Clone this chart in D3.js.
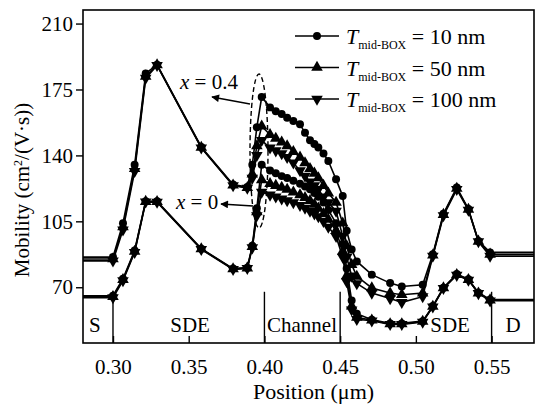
<!DOCTYPE html>
<html>
<head>
<meta charset="utf-8">
<script src="https://cdn.jsdelivr.net/npm/d3@7"></script>
</head>
<body style="margin:0; background:#fff">
<div id="chart"></div>
<script>
// Data
const positions = [0.27, 0.300, 0.3066, 0.3143, 0.3216, 0.3291, 0.3583, 0.3793, 0.3887, 0.3920,
                   0.3950, 0.3982, 0.4037, 0.4075, 0.4114, 0.4150, 0.4191, 0.4235, 0.4268, 0.4301,
                   0.4330, 0.4356, 0.4390, 0.4422, 0.4473, 0.4517, 0.4543, 0.4576, 0.4610, 0.4709,
                   0.4830, 0.4907, 0.5045, 0.5112, 0.5182, 0.5270, 0.5347, 0.5413, 0.5490, 0.59];

// x = 0.4 group
const upper10  = [86, 86, 104, 135, 183.5, 188.2, 144.5, 124.5, 123.2, 135,
                  155, 171, 165.5, 163.5, 162, 160, 158.3, 156.5, 152, 148,
                  146, 144.2, 141, 137, 127.3, 118.4, 100, 90, 83.7, 76.7,
                  72.2, 70.4, 71.3, 87.5, 109, 123, 111.5, 94.6, 88.5, 88.5];
const upper50  = [85, 85, 102, 133, 182, 188, 144.2, 124.2, 122.9, 130,
                  145, 155.5, 151, 149, 147, 145, 142, 139, 136, 133,
                  130.5, 128, 124, 120, 115, 104, 92, 82, 75.8, 69.6,
                  66.9, 66, 66.9, 87, 108.6, 122.5, 111.3, 94.4, 87.5, 87.5];
const upper100 = [84, 84, 100.5, 131.5, 181, 187.8, 144, 124, 122.6, 128,
                  140, 148, 144, 142.5, 141, 139, 136, 132, 129, 126,
                  124, 122, 118, 115, 110.4, 97, 86, 76, 72, 66.9,
                  64, 62, 65, 86.5, 108, 122, 111, 94.2, 86.5, 86.5];

// x = 0 group
const lower10  = [65.5, 65.5, 74.5, 89.5, 115.7, 115.6, 90.5, 79.9, 80.4, 92,
                  112, 135, 132, 130.5, 129, 128, 126.5, 125, 123.5, 122,
                  120, 118, 115, 111, 104, 93, 80, 63, 56, 52.8,
                  50.8, 50.8, 52, 60, 69.8, 77, 74.2, 67.1, 63.5, 63.5];
const lower50  = [65, 65, 74, 89, 115.5, 115.4, 90.3, 79.7, 80.2, 91.5,
                  110, 127, 125, 124, 123, 122, 120.5, 119, 117.5, 116,
                  114, 112, 109, 106, 100, 89, 76, 60, 54, 52.5,
                  50.5, 50.5, 51.8, 59.8, 69.6, 76.7, 74, 66.9, 63.2, 63.2];
const lower100 = [64.5, 64.5, 73.5, 88.5, 115.3, 115.2, 90.1, 79.5, 80, 91,
                  108, 120.5, 119, 118, 117, 116, 115, 113.5, 112, 110.5,
                  109, 107.5, 105, 102, 97, 86, 73, 58, 53, 52.2,
                  50.3, 50.3, 51.5, 59.6, 69.4, 76.4, 73.8, 66.7, 62.8, 62.8];

const legendLabels = ['= 10 nm', '= 50 nm', '= 100 nm'];
const yTicks = [70, 105, 140, 175, 210];
const xTicks = [0.30, 0.35, 0.40, 0.45, 0.50, 0.55];
const dividers = [0.30, 0.40, 0.45, 0.55];
const regions = [
  { name: 'S', x: 0.2881 },
  { name: 'SDE', x: 0.3509 },
  { name: 'Channel', x: 0.4248 },
  { name: 'SDE', x: 0.5226 },
  { name: 'D', x: 0.5642 }
];

const FONT = '"Liberation Serif"';

// Step 1: chart area
const svgWidth = 536;
const svgHeight = 407;
const margin = { top: 10, bottom: 64, right: 2, left: 83 };
const chartWidth = svgWidth - margin.left - margin.right;
const chartHeight = svgHeight - margin.top - margin.bottom;

const svg = d3.select('#chart')
  .append('svg')
  .attr('width', svgWidth)
  .attr('height', svgHeight);

const chartGroup = svg.append('g')
  .attr('transform', `translate(${margin.left}, ${margin.top})`);

// Step 2: scales
const xScale = d3.scaleLinear().domain([0.2802, 0.578]).range([0, chartWidth]);
const yScale = d3.scaleLinear().domain([40.4, 217.2]).range([chartHeight, 0]);

// Step 3: axes
const leftAxis = d3.axisLeft(yScale).tickValues(yTicks).tickSize(7).tickPadding(3).tickFormat(d3.format('d'));
const bottomAxis = d3.axisBottom(xScale).tickValues(xTicks).tickSize(-7).tickPadding(16).tickFormat(d3.format('.2f'));

const yAxisG = chartGroup.append('g').call(leftAxis);
const xAxisG = chartGroup.append('g').attr('transform', `translate(0, ${chartHeight})`).call(bottomAxis);

[yAxisG, xAxisG].forEach(g => {
  g.attr('font-family', null).attr('font-size', null);
  g.select('.domain').remove();
  g.selectAll('line').attr('stroke', '#000').attr('stroke-width', 1.4);
  g.selectAll('text')
    .style('font-family', FONT)
    .style('font-size', '21px')
    .attr('fill', '#000');
});

// Step 4: region dividers and labels
chartGroup.selectAll('.divider')
  .data(dividers)
  .enter()
  .append('line')
  .attr('x1', d => xScale(d))
  .attr('x2', d => xScale(d))
  .attr('y1', yScale(67.6))
  .attr('y2', chartHeight)
  .attr('stroke', '#000')
  .attr('stroke-width', 1.4);

chartGroup.selectAll('.region')
  .data(regions)
  .enter()
  .append('text')
  .attr('x', d => xScale(d.x))
  .attr('y', chartHeight - 11)
  .attr('text-anchor', 'middle')
  .style('font-family', FONT)
  .style('font-size', '21px')
  .text(d => d.name);

// Step 5: curves
chartGroup.append('clipPath').attr('id', 'plotClip')
  .append('rect').attr('width', chartWidth).attr('height', chartHeight);

const series = [
  { values: upper10, shape: 'circle' },
  { values: upper50, shape: 'up' },
  { values: upper100, shape: 'down' },
  { values: lower10, shape: 'circle' },
  { values: lower50, shape: 'up' },
  { values: lower100, shape: 'down' }
];

const symbolFor = shape => shape === 'circle'
  ? d3.symbol().type(d3.symbolCircle).size(50)()
  : d3.symbol().type(d3.symbolTriangle).size(58)();

const line = d3.line()
  .x((d, i) => xScale(positions[i]))
  .y(d => yScale(d));

const plot = chartGroup.append('g').attr('clip-path', 'url(#plotClip)');

series.forEach(s => {
  plot.append('path')
    .datum(s.values)
    .attr('d', line)
    .attr('fill', 'none')
    .attr('stroke', '#000')
    .attr('stroke-width', 1.6);

  plot.selectAll(null)
    .data(s.values)
    .enter()
    .append('path')
    .attr('d', symbolFor(s.shape))
    .attr('transform', (d, i) => `translate(${xScale(positions[i])}, ${yScale(d)})${s.shape === 'down' ? ' rotate(180)' : ''}`)
    .attr('fill', '#000');
});

// Step 6: frame
chartGroup.append('rect')
  .attr('width', chartWidth)
  .attr('height', chartHeight)
  .attr('fill', 'none')
  .attr('stroke', '#000')
  .attr('stroke-width', 1.6);

// Step 7: annotations
svg.append('defs').append('marker')
  .attr('id', 'arrow')
  .attr('viewBox', '0 0 10 10')
  .attr('refX', 9).attr('refY', 5)
  .attr('markerWidth', 9).attr('markerHeight', 6)
  .attr('orient', 'auto')
  .append('path')
  .attr('d', 'M0,0L10,5L0,10z')
  .attr('fill', '#000');

svg.append('ellipse')
  .attr('cx', 259).attr('cy', 151)
  .attr('rx', 9).attr('ry', 77)
  .attr('fill', 'none')
  .attr('stroke', '#000')
  .attr('stroke-width', 1.4)
  .attr('stroke-dasharray', '5,3');

const notes = [
  { label: '0.4', tx: 180, ty: 89, from: [250, 104], to: [212, 97] },
  { label: '0', tx: 176, ty: 209, from: [253, 206], to: [221, 204] }
];

notes.forEach(n => {
  const t = svg.append('text').attr('x', n.tx).attr('y', n.ty)
    .style('font-family', FONT).style('font-size', '21px');
  t.append('tspan').style('font-style', 'italic').text('x');
  t.append('tspan').text(' = ' + n.label);
  svg.append('line')
    .attr('x1', n.from[0]).attr('y1', n.from[1])
    .attr('x2', n.to[0]).attr('y2', n.to[1])
    .attr('stroke', '#000').attr('stroke-width', 1.3)
    .attr('marker-end', 'url(#arrow)');
});

// Step 8: legend
const legend = svg.append('g').attr('transform', 'translate(295, 36)');
const shapes = ['circle', 'up', 'down'];
legendLabels.forEach((label, i) => {
  const row = legend.append('g').attr('transform', `translate(0, ${i * 31.5})`);
  row.append('line').attr('x1', 0).attr('x2', 44).attr('stroke', '#000').attr('stroke-width', 1.5);
  row.append('path')
    .attr('d', symbolFor(shapes[i]))
    .attr('transform', `translate(22, 0)${shapes[i] === 'down' ? ' rotate(180)' : ''}`)
    .attr('fill', '#000');
  const t = row.append('text').attr('x', 51).attr('y', 8)
    .style('font-family', FONT).style('font-size', '22px');
  t.append('tspan').style('font-style', 'italic').text('T');
  t.append('tspan').attr('dy', 5).style('font-size', '12px').text('mid-BOX');
  t.append('tspan').attr('dy', -5).text(' ' + label);
});

// Step 9: axis titles
const yTitle = svg.append('text')
  .attr('transform', `translate(29, ${margin.top + 180}) rotate(-90)`)
  .attr('text-anchor', 'middle')
  .style('font-family', FONT)
  .style('font-size', '21px');
yTitle.append('tspan').text('Mobility (cm');
yTitle.append('tspan').attr('dy', -7).style('font-size', '12px').text('2');
yTitle.append('tspan').attr('dy', 7).text('/(V·s))');

svg.append('text')
  .attr('x', margin.left + chartWidth / 2 + 5)
  .attr('y', 399)
  .attr('text-anchor', 'middle')
  .style('font-family', FONT)
  .style('font-size', '22px')
  .text('Position (μm)');
</script>
</body>
</html>
